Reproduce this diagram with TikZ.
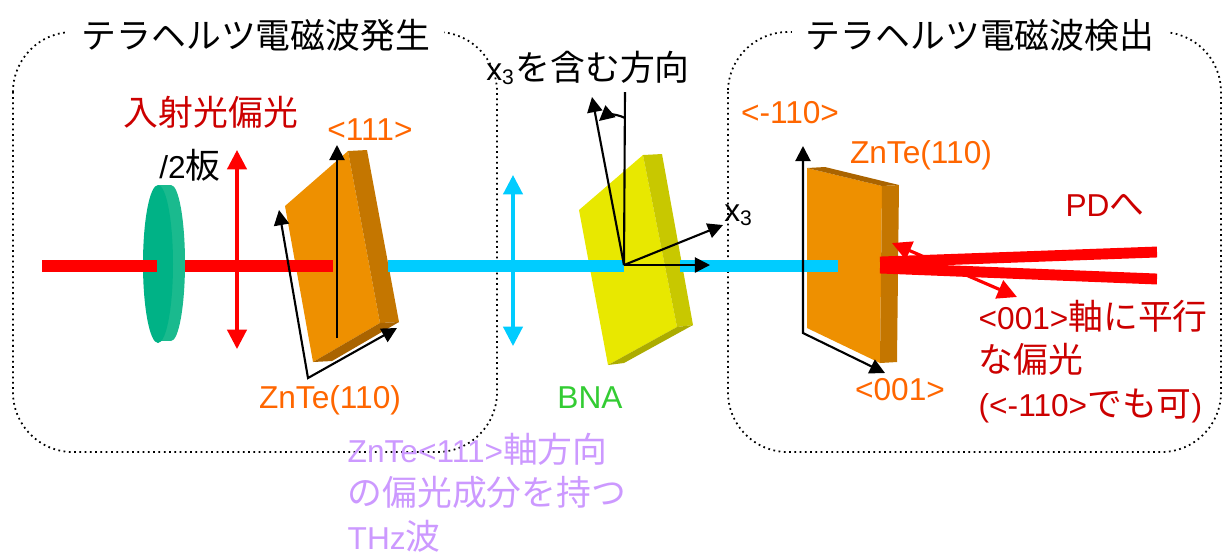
\documentclass[tikz,border=0pt]{standalone}
\usepackage{fontspec}
\setmainfont{Liberation Sans}
\newfontfamily\jp[Scale=1.1]{Noto Sans CJK JP}
\usetikzlibrary{arrows.meta}

\definecolor{beamred}{RGB}{255,0,0}
\definecolor{thzcyan}{RGB}{0,204,255}
\definecolor{labelorange}{RGB}{255,102,0}
\definecolor{labelred}{RGB}{204,0,0}
\definecolor{labelgreen}{RGB}{51,204,51}
\definecolor{labelviolet}{RGB}{204,153,255}
\definecolor{platefront}{RGB}{0,178,134}
\definecolor{plateedge}{RGB}{26,186,142}
\definecolor{zntefront}{RGB}{238,144,0}
\definecolor{znteside}{RGB}{196,118,0}
\definecolor{zntebottom}{RGB}{170,100,0}
\definecolor{bnafront}{RGB}{232,232,0}
\definecolor{bnaside}{RGB}{200,200,0}
\definecolor{bnabottom}{RGB}{172,172,0}

\tikzset{
  lbl/.style={inner sep=0pt, font=\fontsize{9}{12.4}\selectfont},
  boxline/.style={densely dotted, line width=0.5pt, rounded corners=17pt},
  beam/.style={line width=3.5pt},
  axis/.style={line width=0.6pt, -{Triangle[length=4.3pt,width=4.3pt]}},
  axes2/.style={line width=0.6pt, {Triangle[length=4.3pt,width=4.3pt]}-{Triangle[length=4.3pt,width=4.3pt]}},
  pol/.style={line width=0.9pt, {Triangle[length=5.5pt,width=5.5pt]}-{Triangle[length=5.5pt,width=5.5pt]}},
}

\begin{document}
\begin{tikzpicture}[x=0.01cm,y=-0.01cm]
    \useasboundingbox (0,0) rectangle (1223,553);

    % generation and detection stages
    \draw[boxline] (13,32) rectangle (497,452);
    \draw[boxline] (728,32) rectangle (1221,452);
    \node[lbl, fill=white, inner xsep=4pt, inner ysep=2pt] (genttl) at (256,35) {\jp テラヘルツ電磁波発生};
    \node[lbl, fill=white, inner xsep=4pt, inner ysep=2pt] (detttl) at (980,35) {\jp テラヘルツ電磁波検出};

    % half wave plate
    \fill[plateedge] (171,263) ellipse [x radius=14, y radius=78];
    \fill[plateedge] (158,185) rectangle (171,341);
    \fill[platefront] (158,264) ellipse [x radius=15, y radius=79];

    % ZnTe emitter
    \fill[zntefront] (285,206) -- (348,151) -- (380,323) -- (313,362) -- cycle;
    \fill[znteside] (348,151) -- (367,150) -- (399,322) -- (380,323) -- cycle;
    \fill[zntebottom] (313,362) -- (380,323) -- (399,322) -- (332,361) -- cycle;

    % BNA
    \fill[bnafront] (579,210) -- (643,155) -- (677,327) -- (608,365) -- cycle;
    \fill[bnaside] (643,155) -- (662,154) -- (693,325) -- (677,327) -- cycle;
    \fill[bnabottom] (608,365) -- (677,327) -- (693,325) -- (624,363) -- cycle;

    % ZnTe detector
    \fill[zntefront] (807,168) -- (882,186) -- (880,363) -- (807,328) -- cycle;
    \fill[zntebottom] (807,168) -- (825,167) -- (899,185) -- (882,186) -- cycle;
    \fill[znteside] (882,186) -- (899,185) -- (897,362) -- (880,363) -- cycle;

    % polarizations
    \draw[pol, beamred] (237,150) -- (237,349);
    \draw[pol, thzcyan] (513,175) -- (513,346);
    \draw[pol, beamred] (892,243) -- (1017,297);

    % beams
    \draw[beam, beamred] (42,266) -- (157,266);
    \draw[beam, beamred] (185,266) -- (333,266);
    \draw[beam, thzcyan] (388,266) -- (624,266);
    \draw[beam, thzcyan] (680,266) -- (838,266);
    \draw[line width=3.1pt, beamred] (880,262) -- (1157,252);
    \draw[line width=3.1pt, beamred] (880,268) -- (1157,279);

    % crystal axes
    \draw[axis] (337,338) -- (337,145);
    \draw[axes2] (279,210) -- (308,378) -- (397,328);

    \coordinate (bnaO) at (624,265);
    \draw[line width=0.6pt] (bnaO) -- (625,92);
    \draw[axis] (bnaO) -- (710,265);
    \draw[axis] (bnaO) -- (723,225);
    \draw[axis] (bnaO) -- (592,97);
    \draw[axis] (625,118) .. controls (615,113) and (606,115) .. (599,121);

    \draw[axes2] (803,146) -- (803,333) -- (885,373);

    % labels
    \node[lbl, labelred] (inpol) at (211,112) {\jp 入射光偏光};
    \node[lbl] (hwp) at (190,165) {/2{\jp 板}};
    \node[lbl, labelorange] (e111) at (370,130) {<111>};
    \node[lbl, labelorange] (eznte) at (330,400) {ZnTe(110)};
    \node[lbl, labelgreen] (bnalbl) at (590,398) {BNA};
    \node[lbl] (x3dir) at (588,68) {x\textsubscript{3}{\jp を含む方向}};
    \node[lbl] (x3) at (739,215) {x\textsubscript{3}};
    \node[lbl, labelorange] (dm110) at (790,113) {<-110>};
    \node[lbl, labelorange] (dznte) at (921,155) {ZnTe(110)};
    \node[lbl, labelred] (pd) at (1105,205) {PD{\jp へ}};
    \node[lbl, labelorange] (d001) at (900,390) {<001>};
    \node[lbl, labelred, align=left, anchor=north west] (detpol) at (978,299)
        {<001>{\jp 軸に平行}\\{\jp な偏光}\\(<-110>{\jp でも可})};
    \node[lbl, labelviolet, align=left, anchor=north west] (thzpol) at (347,432)
        {ZnTe<111>{\jp 軸方向}\\{\jp の偏光成分を持つ}\\THz{\jp 波}};
\end{tikzpicture}
\end{document}
